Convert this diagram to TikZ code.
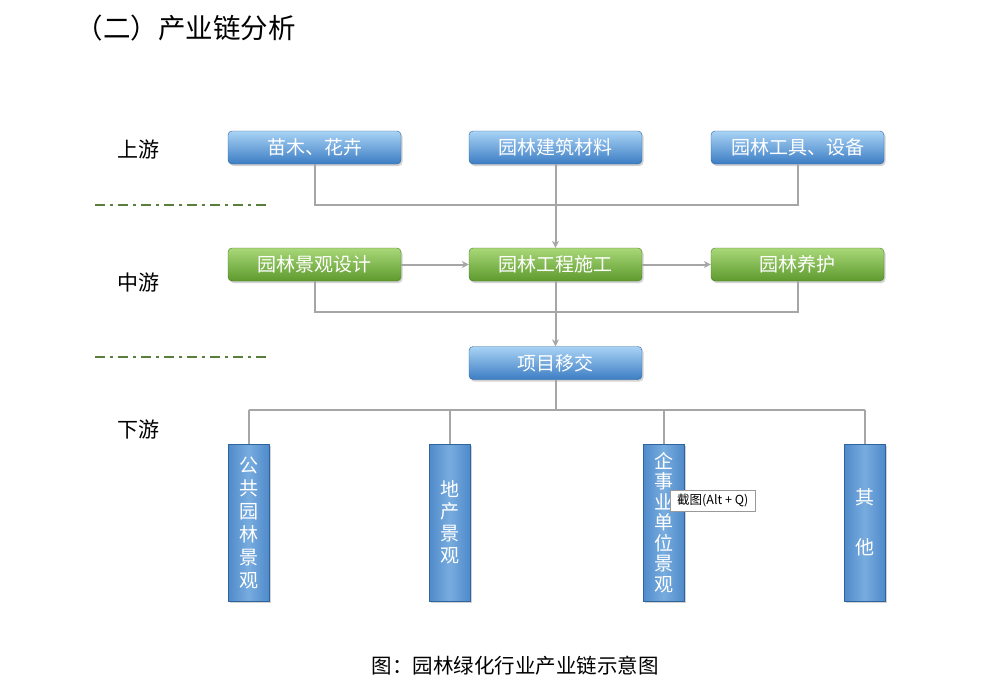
\documentclass[tikz,border=0pt]{standalone}
\usepackage{fontspec}
\setmainfont{Noto Sans CJK SC}
\newfontfamily\cjk{Noto Sans CJK SC}
\usetikzlibrary{shadows,arrows.meta}
\definecolor{lineg}{HTML}{A6A6A6}
\definecolor{bluetop}{HTML}{A9D3F5}
\definecolor{bluebot}{HTML}{3C7DC4}
\definecolor{greentop}{HTML}{A8D878}
\definecolor{greenbot}{HTML}{5E9A2E}
\definecolor{dashg}{HTML}{5A7F3A}
\tikzset{
  hbox/.style={rounded corners=4pt, minimum width=173pt, minimum height=33pt, inner sep=0pt,
    font=\cjk\fontsize{19}{22}\selectfont, text=white,
    drop shadow={shadow xshift=1.5pt, shadow yshift=-2pt, opacity=0.35}},
  bluebox/.style={hbox, top color=bluetop, bottom color=bluebot, draw=bluebot!80!black, line width=0.4pt},
  greenbox/.style={hbox, top color=greentop, bottom color=greenbot, draw=greenbot!80!black, line width=0.4pt},
  vbox/.style={minimum width=41pt, minimum height=157pt, inner sep=0pt, align=center,
    left color=bluebot!90, right color=bluebot!90, middle color=bluetop!55!bluebot,
    draw=bluebot!80!black, line width=0.4pt, text=white,
    drop shadow={shadow xshift=1.5pt, shadow yshift=-2pt, opacity=0.35}},
  conn/.style={draw=lineg, line width=2pt},
  arr/.style={conn, -{Stealth[length=7pt,width=7pt]}},
  lvl/.style={font=\cjk\fontsize{21}{24}\selectfont, text=black},
  dashline/.style={draw=dashg, line width=2.2pt, dash pattern=on 10pt off 5pt on 3pt off 5pt}
}
\begin{document}
\begin{tikzpicture}[x=1pt,y=-1pt]
\useasboundingbox[fill=white] (0,0) rectangle (994,699);
% title
\node[anchor=west, font=\cjk\fontsize{27.5}{31}\selectfont] (title) at (72,28) {（二）产业链分析};
% level labels
\node[lvl] (up) at (138,150) {上游};
\node[lvl] (mid) at (138,283) {中游};
\node[lvl] (down) at (138,430) {下游};
% dash-dot separators
\coordinate (d1a) at (95,205); \coordinate (d1b) at (270,205);
\coordinate (d2a) at (95,357); \coordinate (d2b) at (270,357);
\draw[dashline] (d1a) -- (d1b);
\draw[dashline] (d2a) -- (d2b);
% top row
\node[bluebox] (u1) at (314.5,147.5) {苗木、花卉};
\node[bluebox] (u2) at (555.5,147.5) {园林建筑材料};
\node[bluebox] (u3) at (797.5,147.5) {园林工具、设备};
% middle row
\node[greenbox] (m1) at (314.5,264.5) {园林景观设计};
\node[greenbox] (m2) at (555.5,264.5) {园林工程施工};
\node[greenbox] (m3) at (797.5,264.5) {园林养护};
% hand over
\node[bluebox] (h) at (555.5,363) {项目移交};
% bottom boxes
\node[vbox, font=\cjk\fontsize{19}{23}\selectfont] (b1) at (248.5,522.5) {公\\共\\园\\林\\景\\观};
\node[vbox, font=\cjk\fontsize{19}{22}\selectfont] (b2) at (449.5,522.5) {地\\产\\景\\观};
\node[vbox, font=\cjk\fontsize{19}{20.5}\selectfont] (b3) at (663.5,522.5) {企\\事\\业\\单\\位\\景\\观};
\node[vbox, font=\cjk\fontsize{19}{50}\selectfont] (b4) at (864.5,522.5) {其\\他};
% connectors top
\coordinate (j1) at (314.5,205);
\coordinate (j3) at (797.5,205);
\draw[conn] (u1.south) -- (j1) -- (j3) -- (u3.south);
\draw[arr] (u2.south) -- (m2.north);
% middle arrows
\draw[arr] (m1.east) -- (m2.west);
\draw[arr] (m2.east) -- (m3.west);
\coordinate (k1) at (314.5,312);
\coordinate (k3) at (797.5,312);
\draw[conn] (m1.south) -- (k1) -- (k3) -- (m3.south);
\draw[arr] (m2.south) -- (h.north);
% bottom tree
\coordinate (t0) at (555.5,410);
\coordinate (t1) at (248.5,410);
\coordinate (t2) at (449.5,410);
\coordinate (t3) at (663.5,410);
\coordinate (t4) at (864.5,410);
\draw[conn] (h.south) -- (t0);
\draw[conn] (t1) -- (t4);
\draw[conn] (t1) -- (b1.north);
\draw[conn] (t2) -- (b2.north);
\draw[conn] (t3) -- (b3.north);
\draw[conn] (t4) -- (b4.north);
% tooltip
\node[draw=gray!80, fill=white, line width=0.6pt, font=\cjk\fontsize{12.5}{14}\selectfont, minimum height=21pt, minimum width=85pt, inner xsep=4pt, anchor=west] (tip) at (670,500.5) {截图(Alt + Q)};
% caption
\node[font=\cjk\fontsize{20.5}{23}\selectfont] (cap) at (515,666) {图：园林绿化行业产业链示意图};
\end{tikzpicture}
\end{document}
